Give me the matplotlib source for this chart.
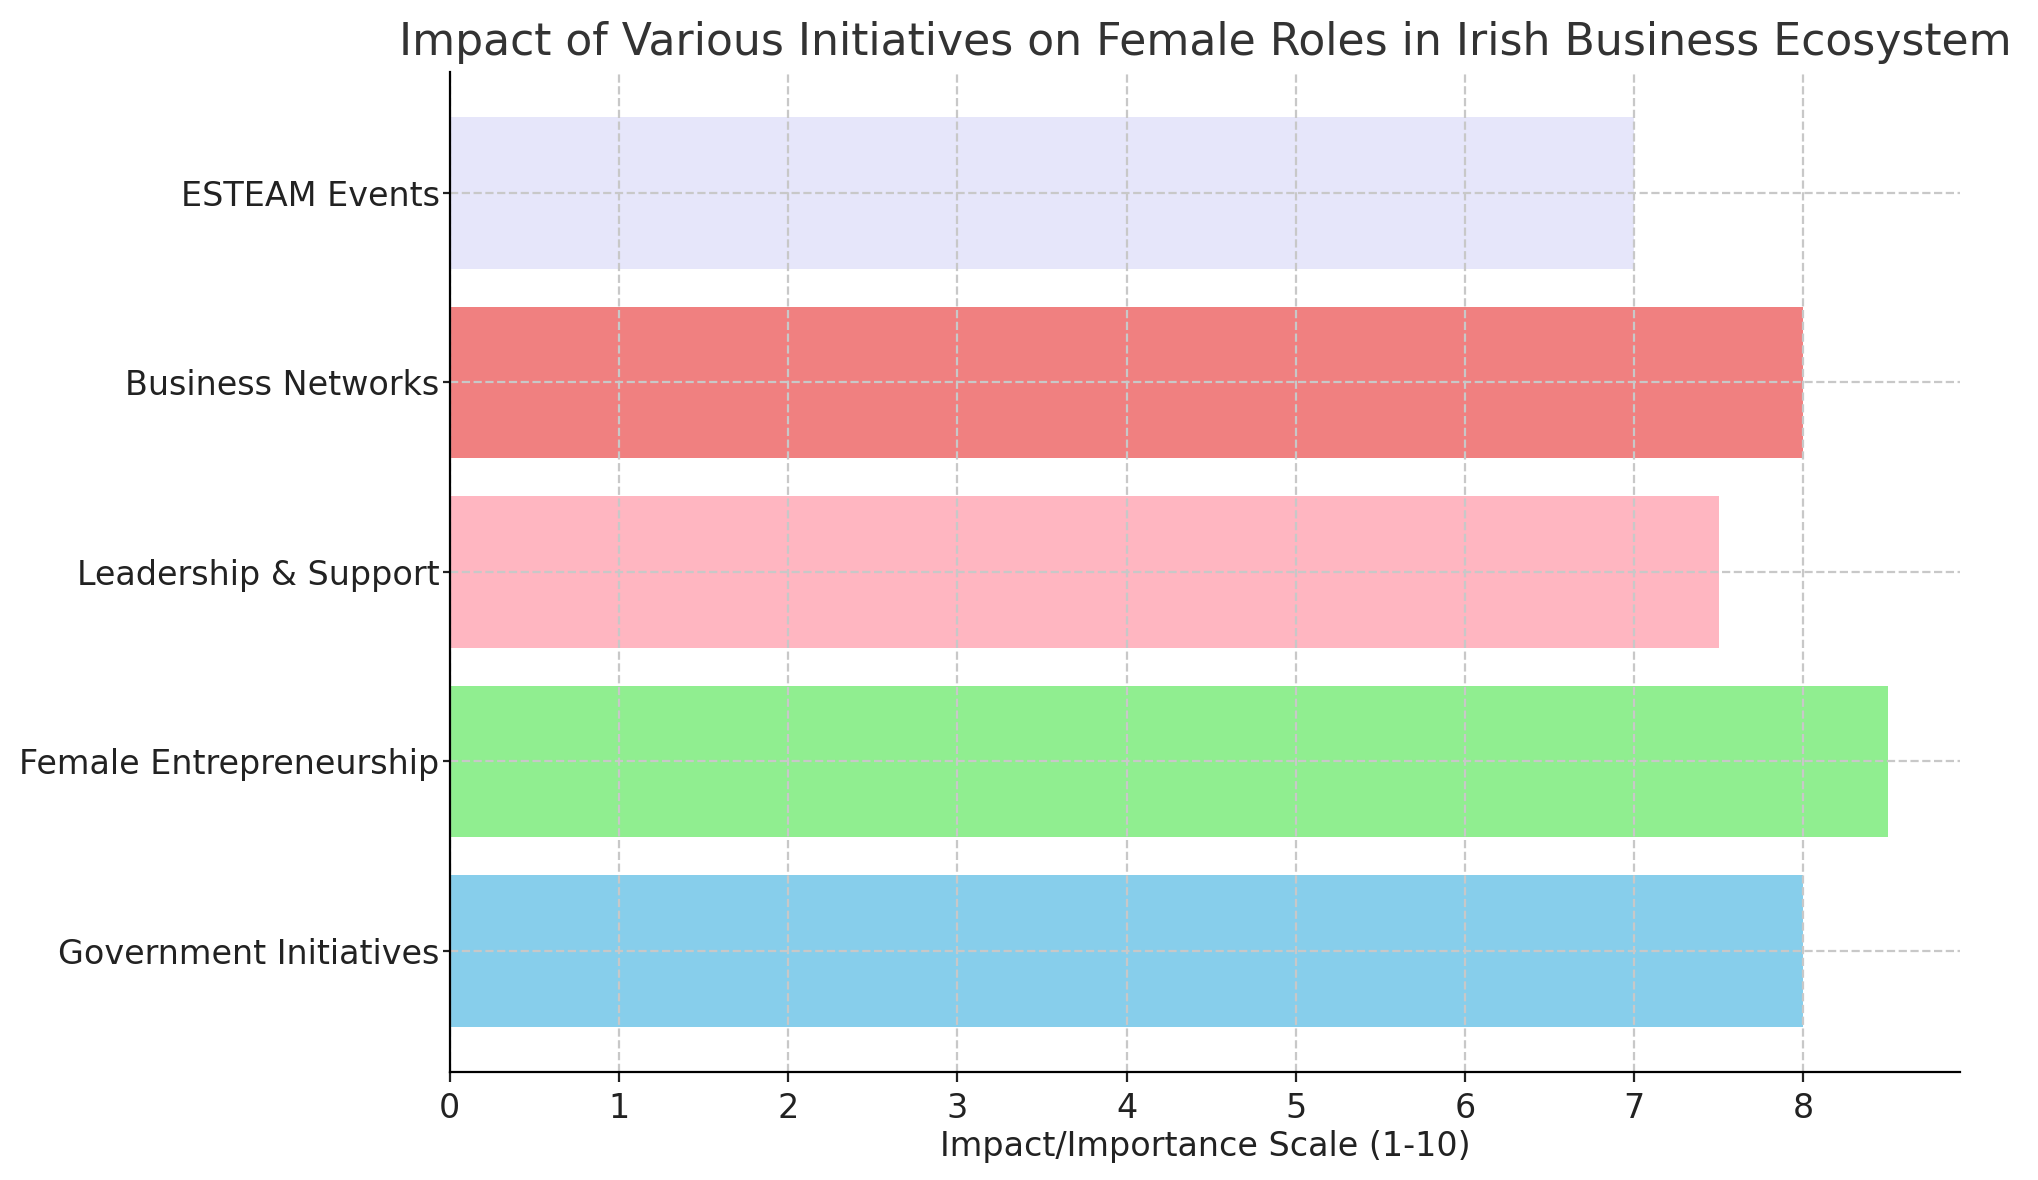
import matplotlib
matplotlib.use("Agg")
import matplotlib.pyplot as plt

categories = ["Government Initiatives", "Female Entrepreneurship", "Leadership & Support",
              "Business Networks", "ESTEAM Events"]
values = [8, 8.5, 7.5, 8, 7]
colors = ["skyblue", "lightgreen", "lightpink", "lightcoral", "lavender"]

fig = plt.figure(figsize=(10.19, 5.9), dpi=200)
ax = fig.add_axes([0.2207, 0.0914, 0.741, 0.848])
ax.barh(categories, values, color=colors)
ax.set_title("Impact of Various Initiatives on Female Roles in Irish Business Ecosystem",
             fontsize=15.9, color="#333333")
ax.set_xlabel("Impact/Importance Scale (1-10)", fontsize=12, color="#222222", labelpad=2)
ax.tick_params(axis="both", labelsize=12, colors="#222222")
ax.tick_params(axis="y", length=2.5, pad=1.2)
ax.set_xticks(range(0, 9))
ax.grid(True, linestyle="--", color="#c8c8c8", linewidth=0.8)
for s in ["top", "right"]:
    ax.spines[s].set_visible(False)
fig.savefig("out.png", dpi=200)
